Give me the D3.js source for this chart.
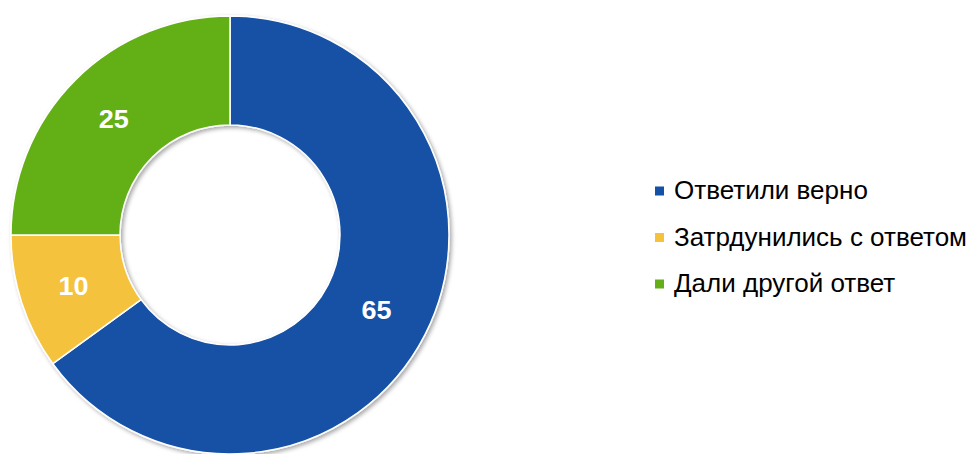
<!DOCTYPE html>
<html>
<head>
<meta charset="utf-8">
<script src="https://cdn.jsdelivr.net/npm/d3@7"></script>
<style>
  html, body { margin: 0; padding: 0; background: #fff; }
  svg { display: block; font-family: Arial, "Liberation Sans", sans-serif; }
</style>
</head>
<body>
<div id="chart"></div>
<script>
var categories = ['Ответили верно', 'Затрдунились с ответом', 'Дали другой ответ'];
var values = [65, 10, 25];
var colors = ['#1351a6', '#f5c23c', '#64af17'];

var width = 979, height = 454;
var cx = 230, cy = 235;
var outerR = 219, innerR = 110;

var svg = d3.select('#chart')
  .append('svg')
  .attr('width', width)
  .attr('height', height);

// soft drop shadow under the ring
var defs = svg.append('defs');
var filter = defs.append('filter')
  .attr('id', 'shadow')
  .attr('x', '-10%').attr('y', '-10%')
  .attr('width', '120%').attr('height', '120%');
filter.append('feDropShadow')
  .attr('dx', 2).attr('dy', 2)
  .attr('stdDeviation', 2.2)
  .attr('flood-color', '#000')
  .attr('flood-opacity', 0.35);

var data = categories.map(function(c, i){ return {name: c, value: values[i], color: colors[i]}; });

var pie = d3.pie()
  .sort(null)
  .value(function(d){ return d.value; });

var arc = d3.arc()
  .innerRadius(innerR)
  .outerRadius(outerR);

var labelArc = d3.arc()
  .innerRadius((innerR + outerR) / 2)
  .outerRadius((innerR + outerR) / 2);

var g = svg.append('g')
  .attr('transform', 'translate(' + cx + ',' + cy + ')');

var ring = g.append('g')
  .attr('filter', 'url(#shadow)');

var arcs = pie(data);

ring.selectAll('path')
  .data(arcs)
  .enter()
  .append('path')
  .attr('d', arc)
  .attr('fill', function(d){ return d.data.color; })
  .attr('stroke', '#fff')
  .attr('stroke-width', 1.5)
  .attr('stroke-linejoin', 'round');

g.selectAll('.label')
  .data(arcs)
  .enter()
  .append('text')
  .attr('class', 'label')
  .attr('transform', function(d){
    var c = labelArc.centroid(d);
    return 'translate(' + c[0] + ',' + (c[1] + 9) + ') scale(1.08,1)';
  })
  .attr('text-anchor', 'middle')
  .attr('fill', '#fff')
  .attr('font-weight', 'bold')
  .attr('font-size', 25)
  .text(function(d){ return d.data.value; });

// ============== Legend ==============
var legendY = d3.scalePoint()
  .domain(categories)
  .range([190, 283]);

var legend = svg.append('g');

var item = legend.selectAll('.item')
  .data(data)
  .enter()
  .append('g')
  .attr('class', 'item')
  .attr('transform', function(d){ return 'translate(655,' + legendY(d.name) + ')'; });

item.append('rect')
  .attr('x', 0)
  .attr('y', -3.5)
  .attr('width', 9)
  .attr('height', 9)
  .attr('fill', function(d){ return d.color; });

item.append('text')
  .attr('x', 19)
  .attr('y', 9)
  .attr('font-size', 26)
  .attr('fill', '#000')
  .text(function(d){ return d.name; });
</script>
</body>
</html>
